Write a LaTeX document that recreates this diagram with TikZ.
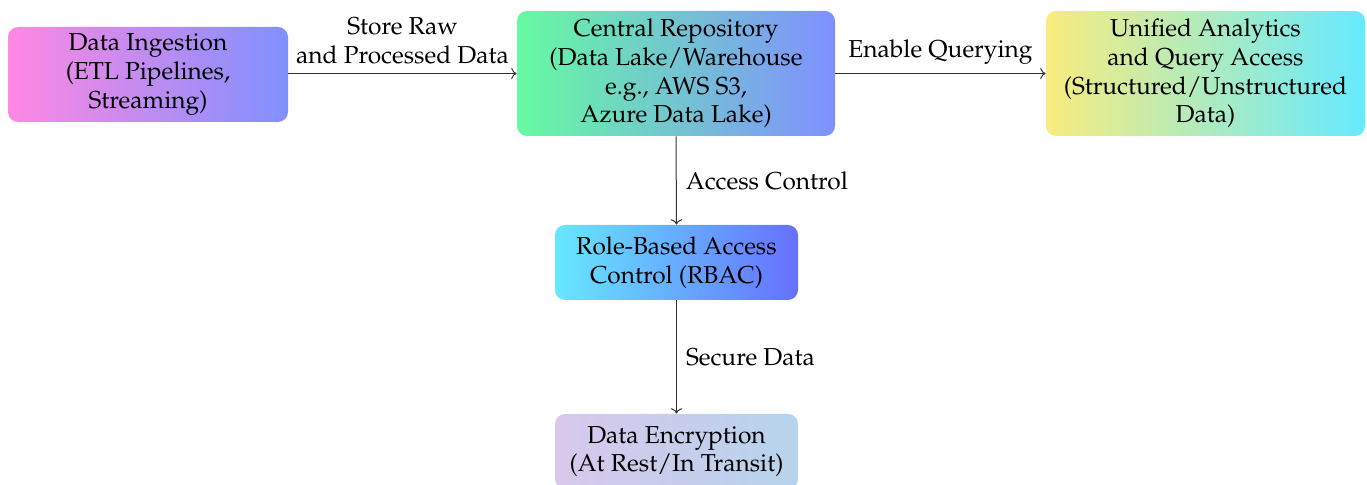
\documentclass[tikz,border=0pt]{standalone}
\usepackage[T1]{fontenc}
\usepackage{mathpazo}
\usetikzlibrary{arrows.meta}

% Gradient end colours for the boxes
\definecolor{ingL}{HTML}{FF88E2}
\definecolor{ingR}{HTML}{8090FF}
\definecolor{cenL}{HTML}{66FAA2}
\definecolor{cenR}{HTML}{8090FF}
\definecolor{uniL}{HTML}{F8EC7E}
\definecolor{uniR}{HTML}{66EAFF}
\definecolor{rbacL}{HTML}{66E8FF}
\definecolor{rbacR}{HTML}{6670FF}
\definecolor{encL}{HTML}{D8C8EC}
\definecolor{encR}{HTML}{B6D4EC}

\begin{document}
\begin{tikzpicture}[x=0.5pt, y=-0.5pt,
  txt/.style={font=\fontsize{12.25}{14.4}\selectfont, align=center},
  box/.style={txt, rounded corners=5pt, inner sep=0pt},
  flow/.style={draw=black!80, line width=0.5pt, ->},
  edgelbl/.style={txt, inner sep=4.5pt}]
  \useasboundingbox (0,0) rectangle (1367,485);

  % Boxes
  \node[box, minimum width=140pt, minimum height=47.5pt,
        left color=ingL, right color=ingR] (ing) at (148,74.5)
        {Data Ingestion\\(ETL Pipelines,\\Streaming)};
  \node[box, minimum width=159pt, minimum height=62.5pt,
        left color=cenL, right color=cenR] (cen) at (676,73.5)
        {Central Repository\\(Data Lake/Warehouse\\e.g., AWS S3,\\Azure Data Lake)};
  \node[box, minimum width=159.5pt, minimum height=62.5pt,
        left color=uniL, right color=uniR] (uni) at (1205.5,73.5)
        {Unified Analytics\\and Query Access\\(Structured/Unstructured\\Data)};
  \node[box, minimum width=121.5pt, minimum height=37.5pt,
        left color=rbacL, right color=rbacR] (rbac) at (676.5,262.5)
        {Role-Based Access\\Control (RBAC)};
  \node[box, minimum width=121.5pt, minimum height=37.5pt,
        left color=encL, right color=encR] (enc) at (676.5,451.5)
        {Data Encryption\\(At Rest/In Transit)};

  % Connectors
  \draw[flow] (ing.east |- cen.west) -- node[above, edgelbl]
        {Store Raw\\and Processed Data} (cen.west);
  \draw[flow] (cen.east) -- node[above, edgelbl] {Enable Querying} (uni.west);
  \draw[flow] (cen.south) -- node[right, edgelbl] {Access Control} (rbac.north);
  \draw[flow] (rbac.south) -- node[right, edgelbl] {Secure Data} (enc.north);
\end{tikzpicture}
\end{document}
